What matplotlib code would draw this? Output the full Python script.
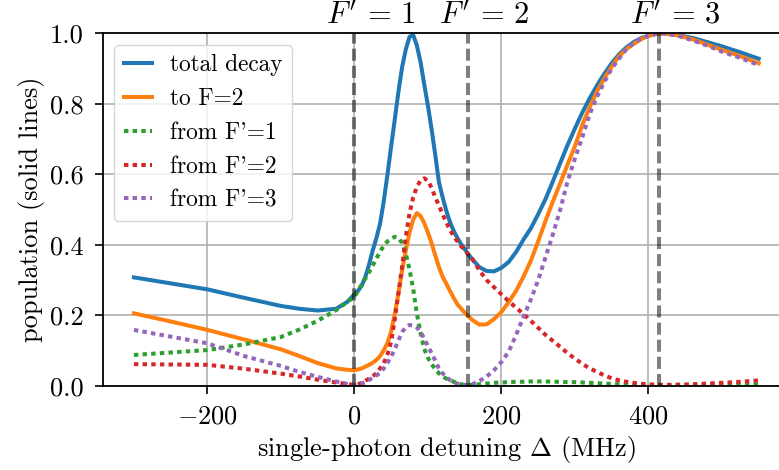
import numpy as np
import matplotlib
matplotlib.use("Agg")
import matplotlib.pyplot as plt

plt.rcParams['font.family'] = 'serif'
plt.rcParams['font.serif'] = ['cmr10']
plt.rcParams['mathtext.fontset'] = 'cm'
plt.rcParams['axes.formatter.use_mathtext'] = True

# detuning grid (MHz) and populations
detuning = [-300, -250, -200, -150, -100, -75, -50, -25, -10,
            0, 5, 10, 15, 20, 25, 30, 35, 40, 45, 50, 55, 60, 65, 70, 75, 80, 85,
            90, 95, 100, 105, 110, 115, 120, 125, 130, 135, 140, 145, 150,
            160, 170, 180, 190, 200, 210, 220, 230, 240, 250, 260, 270, 280, 290,
            300, 310, 320, 330, 340, 350, 360, 370, 380, 390, 400, 410, 420,
            440, 460, 480, 500, 525, 550]

total_decay = [0.308, 0.291, 0.274, 0.25, 0.227, 0.219, 0.214, 0.219, 0.238,
               0.26, 0.27, 0.285, 0.31, 0.345, 0.385, 0.42, 0.461, 0.525, 0.60,
               0.68, 0.757, 0.836, 0.905, 0.955, 0.99, 0.995, 0.965, 0.918, 0.855,
               0.795, 0.728, 0.655, 0.578, 0.535, 0.497, 0.465, 0.44, 0.42, 0.403,
               0.388,
               0.36, 0.337, 0.326, 0.325, 0.335, 0.352, 0.38, 0.415, 0.447, 0.487,
               0.53, 0.58, 0.632, 0.683, 0.73, 0.775, 0.815, 0.852, 0.885, 0.915,
               0.94, 0.96, 0.975, 0.986, 0.993, 0.998, 1.0,
               0.995, 0.987, 0.975, 0.963, 0.946, 0.928]

to_f2 = [0.206, 0.183, 0.159, 0.132, 0.104, 0.085, 0.065, 0.05, 0.046,
         0.045, 0.047, 0.05, 0.055, 0.06, 0.066, 0.074, 0.085, 0.102, 0.122,
         0.155, 0.205, 0.264, 0.33, 0.385, 0.435, 0.472, 0.49, 0.482, 0.462,
         0.435, 0.405, 0.37, 0.337, 0.31, 0.29, 0.27, 0.25, 0.232, 0.22,
         0.208,
         0.188, 0.174, 0.175, 0.19, 0.21, 0.238, 0.27, 0.31, 0.355, 0.41,
         0.468, 0.523, 0.575, 0.628, 0.68, 0.74, 0.79, 0.835, 0.872, 0.905,
         0.935, 0.955, 0.97, 0.983, 0.993, 0.998, 1.0,
         0.994, 0.983, 0.968, 0.953, 0.935, 0.915]

from_f1 = [0.088, 0.095, 0.102, 0.118, 0.139, 0.16, 0.185, 0.215, 0.238,
           0.253, 0.27, 0.288, 0.305, 0.323, 0.342, 0.362, 0.381, 0.398, 0.41,
           0.418, 0.423, 0.42, 0.405, 0.375, 0.33, 0.275, 0.205, 0.15, 0.105,
           0.08, 0.062, 0.048, 0.036, 0.027, 0.021, 0.017, 0.012, 0.008, 0.005,
           0.003,
           0.003, 0.005, 0.007, 0.009, 0.010, 0.011, 0.012, 0.012, 0.013, 0.013,
           0.013, 0.012, 0.012, 0.011, 0.011, 0.010, 0.009, 0.008, 0.007, 0.006,
           0.005, 0.004, 0.003, 0.003, 0.002, 0.002, 0.002,
           0.002, 0.002, 0.003, 0.003, 0.004, 0.005]

from_f2 = [0.062, 0.061, 0.060, 0.049, 0.035, 0.027, 0.018, 0.01, 0.006,
           0.003, 0.005, 0.009, 0.015, 0.021, 0.028, 0.036, 0.05, 0.065, 0.09,
           0.125, 0.19, 0.265, 0.34, 0.425, 0.49, 0.535, 0.565, 0.583, 0.589,
           0.582, 0.562, 0.535, 0.512, 0.487, 0.464, 0.443, 0.425, 0.41, 0.397,
           0.385,
           0.362, 0.328, 0.30, 0.28, 0.26, 0.24, 0.222, 0.204, 0.185, 0.165,
           0.145, 0.128, 0.111, 0.093, 0.078, 0.063, 0.05, 0.04, 0.03, 0.022,
           0.016, 0.012, 0.009, 0.006, 0.005, 0.004, 0.003,
           0.004, 0.005, 0.007, 0.009, 0.012, 0.016]

from_f3 = [0.159, 0.14, 0.121, 0.085, 0.057, 0.04, 0.026, 0.013, 0.006,
           0.003, 0.004, 0.007, 0.011, 0.017, 0.024, 0.03, 0.037, 0.05, 0.066,
           0.083, 0.105, 0.13, 0.153, 0.167, 0.173, 0.172, 0.166, 0.153, 0.135,
           0.113, 0.093, 0.072, 0.05, 0.036, 0.025, 0.017, 0.011, 0.007, 0.004,
           0.003,
           0.005, 0.014, 0.027, 0.045, 0.068, 0.098, 0.145, 0.196, 0.245, 0.30,
           0.365, 0.43, 0.50, 0.58, 0.645, 0.705, 0.77, 0.82, 0.862, 0.9,
           0.928, 0.955, 0.972, 0.985, 0.993, 0.998, 1.0,
           0.993, 0.98, 0.965, 0.948, 0.93, 0.91]

# excited state positions (MHz)
excited_names = [r"$F'\,=\,1$", r"$F'\,=\,2$", r"$F'\,=\,3$"]
excited_pos = [0, 154, 414]

fig = plt.figure(figsize=(7.79, 4.70), dpi=100)
ax = fig.add_axes([0.1318, 0.1787, 0.8822, 0.7505])

dots = (1.1, 1.05)
ax.plot(detuning, total_decay, '-', lw=2.9, color='C0', label='total decay')
ax.plot(detuning, to_f2, '-', lw=2.9, color='C1', label='to F=2')
ax.plot(detuning, from_f1, lw=2.9, color='C2', dashes=dots, label="from F'=1")
ax.plot(detuning, from_f2, lw=2.9, color='C3', dashes=dots, label="from F'=2")
ax.plot(detuning, from_f3, lw=2.9, color='C4', dashes=dots, label="from F'=3")

for name, pos in zip(excited_names, excited_pos):
    ax.axvline(pos, lw=2.9, color='k', alpha=0.5, dashes=(3.0, 1.25))
    ax.text(pos + 22, 1.012, name, ha='center', va='bottom', fontsize=22,
            transform=ax.get_xaxis_transform())

ax.set_xlim(-342.5, 592.5)
ax.set_ylim(0, 1)
ax.set_xticks([-200, 0, 200, 400])
ax.set_yticks([0.0, 0.2, 0.4, 0.6, 0.8, 1.0])
ax.set_yticklabels(['0.0', '0.2', '0.4', '0.6', '0.8', '1.0'])
ax.grid(True, color='#b0b0b0', lw=1.2)
ax.tick_params(labelsize=19, length=5.5, width=1.2, pad=8)
for s in ax.spines.values():
    s.set_linewidth(1.3)

ax.set_xlabel(r'single-photon detuning $\Delta$ (MHz)', fontsize=19)
ax.set_ylabel('population (solid lines)', fontsize=19)

ax.legend(loc='upper left', fontsize=16.8, handlelength=1.2)

fig.savefig('out.png', dpi=100)
